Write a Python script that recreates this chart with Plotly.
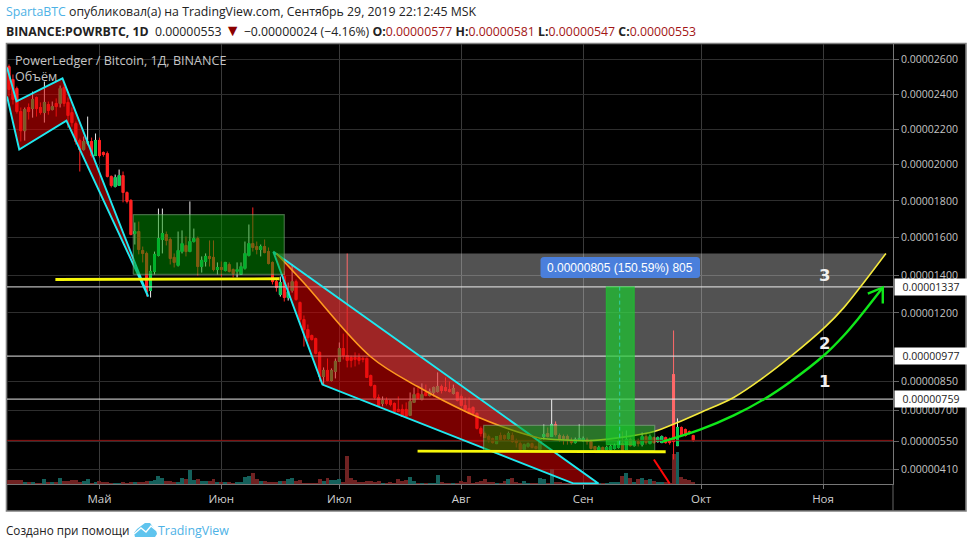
import numpy as np
import pandas as pd
import plotly.graph_objects as go

# ---------- data (prices in 1e-8 BTC, first candle 2019-04-08, one per day) ----------
OPEN = [2559,2484,2432,2300,2191,2323,2317,2380,2323,2294,
        2340,2311,2346,2346,2437,2352,2294,2231,2136,2085,
        2119,2130,2051,2136,2068,2062,1935,1879,1885,1940,
        1846,1803,1622,1633,1531,1515,1318,1419,1504,1590,
        1617,1590,1494,1451,1525,1558,1525,1579,1595,1445,
        1472,1499,1494,1429,1440,1424,1456,1429,1419,1403,
        1435,1504,1568,1552,1536,1552,1525,1467,1365,1297,
        1392,1281,1318,1365,1255,1166,1114,1083,1067,996,
        873,904,853,899,950,1016,980,970,970,970,
        965,965,878,827,767,737,752,752,737,707,
        707,707,677,742,787,757,792,777,792,797,
        822,817,807,787,792,772,727,712,717,687,
        612,587,572,562,537,577,577,562,577,552,
        537,508,523,537,523,508,572,587,572,632,
        577,572,572,552,542,557,552,557,547,523,
        503,518,508,508,513,518,537,508,557,527,
        547,532,572,537,567,547,542,567,557,883,
        527,617,607,597,577]
HIGH = [2571,2513,2443,2323,2323,2346,2414,2386,2352,2472,
        2357,2357,2375,2449,2466,2380,2323,2243,2147,2158,
        2271,2152,2175,2152,2074,2074,1940,1945,1973,1962,
        1852,1808,1682,1687,1552,1525,1451,1525,1758,1758,
        1633,1601,1515,1633,1639,1606,1797,1649,1606,1499,
        1515,1585,1585,1467,1472,1467,1467,1435,1467,1467,
        1579,1671,1764,1579,1563,1590,1547,1472,1376,1392,
        1419,1360,1456,1376,1260,1187,1140,1088,1072,1001,
        919,965,914,965,1047,1093,1515,980,996,991,
        975,970,883,832,782,772,767,757,742,772,
        732,742,792,817,817,838,832,812,822,894,
        832,868,848,832,797,782,767,767,722,692,
        622,597,582,567,572,592,582,597,592,562,
        547,537,542,542,527,562,632,617,757,647,
        587,582,582,567,567,632,572,567,557,523,
        527,523,527,532,537,557,597,602,567,557,
        562,592,587,582,572,572,577,572,567,1109,
        662,622,612,602,581]
LOW = [2386,2340,2288,2130,2135,2254,2265,2271,2282,2237,
       2282,2306,2271,2323,2328,2208,2214,2113,1962,2079,
       2108,2040,2051,2040,2045,1929,1874,1874,1885,1792,
       1786,1612,1563,1510,1467,1286,1281,1403,1499,1515,
       1558,1456,1440,1445,1515,1499,1525,1574,1397,1413,
       1445,1445,1419,1403,1392,1419,1413,1387,1387,1403,
       1429,1499,1525,1510,1499,1515,1456,1350,1312,1286,
       1260,1265,1307,1265,1140,1026,1052,1057,986,848,
       833,848,848,863,950,960,919,919,924,934,
       945,868,822,757,722,722,727,722,692,697,
       672,667,677,742,757,752,772,772,772,792,
       787,797,792,782,747,722,697,682,682,607,
       572,567,542,537,537,552,552,557,542,518,
       503,503,518,513,508,508,557,567,572,572,
       547,532,532,532,537,557,547,532,508,503,
       498,498,503,503,508,513,503,508,523,523,
       523,523,532,537,537,542,542,537,532,459,
       527,572,572,582,547]
CLOSE = [2426,2369,2300,2191,2311,2300,2369,2317,2294,2352,
         2306,2328,2328,2432,2346,2277,2237,2130,2085,2130,
         2130,2051,2136,2051,2057,1935,1885,1929,1940,1846,
         1797,1617,1633,1536,1515,1312,1419,1510,1595,1622,
         1585,1488,1467,1531,1568,1525,1579,1595,1445,1478,
         1499,1488,1429,1440,1429,1467,1419,1408,1429,1445,
         1515,1568,1547,1536,1552,1520,1461,1365,1334,1360,
         1281,1312,1365,1270,1166,1114,1072,1062,991,873,
         904,853,904,950,1016,980,955,955,960,955,
         960,868,827,767,727,752,737,732,697,697,
         672,672,747,782,762,782,777,797,817,822,
         802,802,797,812,752,727,707,687,687,612,
         587,567,557,542,572,557,562,587,547,542,
         508,532,537,518,513,557,582,572,632,582,
         562,562,557,542,557,562,562,547,513,508,
         518,503,518,523,527,547,503,557,527,547,
         537,572,542,572,542,567,572,542,542,547,
         617,577,577,587,553]
VOLUME = [4,4,4,4,2,2,2,1,1,5,
          2,2,2,6,3,3,4,4,2,3,
          5,1,2,3,2,2,1,1,1,2,
          1,2,2,2,2,3,3,4,8,6,
          3,3,2,2,6,5,14,4,5,3,
          3,3,5,2,2,2,2,1,2,2,
          7,8,11,5,3,3,2,2,2,3,
          3,5,6,3,4,1,1,1,1,5,
          3,6,4,4,5,2,28,6,4,2,
          2,3,3,2,3,1,1,2,1,5,
          3,4,7,3,1,1,1,1,1,9,
          2,1,1,1,1,3,2,8,1,2,
          3,5,2,2,1,1,3,5,6,2,
          1,3,1,1,1,6,5,1,15,2,
          2,1,1,1,1,1,1,1,1,1,
          1,1,1,2,2,2,8,11,6,2,
          5,6,4,5,3,2,2,2,1,30,
          32,7,5,4,2]

PRICE_TICKS = [2600,2400,2200,2000,1800,1600,1400,1200,850,700,550,410]
LEVELS = [1337,977,759]
LAST_PRICE = 553
MONTH_TICKS = ["2019-05-01","2019-06-01","2019-07-01","2019-08-01","2019-09-01","2019-10-01","2019-11-01"]
MONTH_LABELS = ["Май","Июн","Июл","Авг","Сен","Окт","Ноя"]

# drawings: day offsets from the first candle, prices
FLAG1_DAY = [-0.5,1.9,13.6,35.4,14.6,2.6,-0.5]
FLAG1_PRICE = [2554,2358,2490,1286,2248,2085,2386]
FLAG2_DAY = [67.2,79.7,143.6,149.9]
FLAG2_PRICE = [1525,832,342,342]
BOX1_DAY = [31.6,70.0]
BOX1_PRICE = [1403,1725]
BOX2_DAY = [120.7,164.2]
BOX2_PRICE = [503,627]
SUPPORT1_DAY = [11.8,68.8]
SUPPORT1_PRICE = [1376,1380]
SUPPORT2_DAY = [103.9,167.0]
SUPPORT2_PRICE = [500,497]
ARC_DAY = [68,74.9,91.9,103.9,116.6,127.5,135.2,147.9,157.3,164,170,175.9,184.3,191.9,198.8,207.7,212.3,216.6,223]
ARC_PRICE = [1515,1360,975,822,692,607,562,552,572,597,642,692,767,868,975,1130,1228,1339,1515]
GREEN_DAY = [166.2,175.9,184.3,191.9,198.8,207.2,212.3,215.9,222.2]
GREEN_PRICE = [547,607,677,757,848,980,1083,1169,1334]
HEAD_DAY = [218.4,222.2,222.2]
HEAD_PRICE = [1302,1334,1249]
RED_DAY = [164,168]
RED_PRICE = [459,342]
MEASURE_DAY = [151.9,159]
MEASURE_PRICE = [532,1337]
MEASURE_MID = 155.3
NUMBER_LABELS = [("3",1398),("2",1042),("1",850)]
NUMBER_DAY = 207.5

# ---------- scales ----------
BASE = pd.Timestamp("2019-04-08")
def day(d):
    return BASE + pd.to_timedelta(np.asarray(d, dtype=float), unit="D")
C_OFF, K = 10700.0, 2279.0
def S(v):
    return np.log(np.asarray(v, dtype=float) + C_OFF)
Y_TOP = float(S(2600)) + 15.5 / K
Y_BOT = float(S(2600)) - 424.5 / K
L, R, T, B = 7, 893, 44, 484
W, H = 973, 548
def px(x): return (x - L) / (R - L)
def py(y): return (B - y) / (B - T)

dates = day(np.arange(len(OPEN)))
O, Hi, Lo, Cl = map(np.array, (OPEN, HIGH, LOW, CLOSE))
up = Cl >= O

fig = go.Figure()

# volume (bottom layer, own hidden axis)
fig.add_trace(go.Bar(x=dates, y=VOLUME, yaxis="y",
                     marker=dict(color=["#14605b" if u else "#702222" for u in up], line_width=0),
                     showlegend=False, hoverinfo="skip"))

# wicks: white on rising candles, red on falling, bodies on top
UP_BODY, DN_BODY = "#00cc55", "#ff2222"
fig.add_trace(go.Candlestick(x=dates, open=S(O), high=S(Hi), low=S(Lo), close=S(Cl), yaxis="y2",
                             increasing=dict(line=dict(color="#e8e8e8", width=1), fillcolor="#e8e8e8"),
                             decreasing=dict(line=dict(color=DN_BODY, width=1), fillcolor=DN_BODY),
                             whiskerwidth=0, showlegend=False, hoverinfo="skip"))
body_top, body_bot = np.maximum(O, Cl), np.minimum(O, Cl)
fig.add_trace(go.Candlestick(x=dates, open=S(O), high=S(body_top), low=S(body_bot), close=S(Cl), yaxis="y2",
                             increasing=dict(line=dict(color=UP_BODY, width=1), fillcolor=UP_BODY),
                             decreasing=dict(line=dict(color=DN_BODY, width=1), fillcolor=DN_BODY),
                             whiskerwidth=0, showlegend=False, hoverinfo="skip"))

def line(dx, pv, color, width, dash=None, shape="linear", fill=None, fillcolor=None):
    fig.add_trace(go.Scatter(x=day(dx), y=S(pv), mode="lines", yaxis="y2", fill=fill, fillcolor=fillcolor,
                             line=dict(color=color, width=width, dash=dash, shape=shape),
                             showlegend=False, hoverinfo="skip"))

# horizontal levels
for lv in LEVELS:
    line([-1, 226], [lv, lv], "rgba(215,215,215,0.85)", 1.3)
line([-1, 226], [LAST_PRICE, LAST_PRICE], "#8f1414", 1)

# grey cup
line(ARC_DAY, ARC_PRICE, "rgba(0,0,0,0)", 0, shape="spline", fill="toself", fillcolor="rgba(255,255,255,0.32)")

# bear flags
RED_FILL = "rgba(220,0,0,0.55)"
CYAN = "#1fe8f0"
line(FLAG1_DAY, FLAG1_PRICE, CYAN, 1.9, fill="toself", fillcolor=RED_FILL)
line(FLAG2_DAY + FLAG2_DAY[:1], FLAG2_PRICE + FLAG2_PRICE[:1], CYAN, 1.9, fill="toself", fillcolor=RED_FILL)

# arcs
split = ARC_DAY.index(135.2) + 1
line(ARC_DAY[:split], ARC_PRICE[:split], "#ff9a1f", 1.6, shape="spline")
line(ARC_DAY[split - 1:], ARC_PRICE[split - 1:], "#f6ea3c", 1.6, shape="spline")

# green consolidation boxes
def box(dx, pv, fill, border):
    d0, d1 = dx
    p0, p1 = pv
    line([d0, d1, d1, d0, d0], [p0, p0, p1, p1, p0], border, 1.2, fill="toself", fillcolor=fill)
box(BOX1_DAY, BOX1_PRICE, "rgba(0,150,0,0.5)", "rgba(150,190,150,0.45)")
box(BOX2_DAY, BOX2_PRICE, "rgba(0,150,0,0.5)", "rgba(150,190,150,0.45)")

# support lines
line(SUPPORT1_DAY, SUPPORT1_PRICE, "#f7f70a", 2.8)
line(SUPPORT2_DAY, SUPPORT2_PRICE, "#f7f70a", 2.8)

# measure tool
box(MEASURE_DAY, MEASURE_PRICE, "rgba(25,205,45,0.68)", "rgba(25,205,45,0.6)")
line([MEASURE_MID, MEASURE_MID], MEASURE_PRICE, "#2fd0a8", 1, dash="4px,3px")

# arrows
line(GREEN_DAY, GREEN_PRICE, "#10e81a", 2.4, shape="spline")
line(HEAD_DAY, HEAD_PRICE, "#10e81a", 2.4)
line(RED_DAY, RED_PRICE, "#ff0808", 2)

# ---------- page furniture ----------
def rpath(x0, y0, x1, y1, r):
    p = [(x0 + r, y0), (x1 - r, y0), (x1, y0), (x1, y0 + r), (x1, y1 - r), (x1, y1), (x1 - r, y1), (x0 + r, y1), (x0, y1), (x0, y1 - r), (x0, y0 + r), (x0, y0), (x0 + r, y0)]
    f = lambda q: f"{px(q[0]):.5f},{py(q[1]):.5f}"
    return (f"M{f(p[0])} L{f(p[1])} Q{f(p[2])} {f(p[3])} L{f(p[4])} Q{f(p[5])} {f(p[6])} "
            f"L{f(p[7])} Q{f(p[8])} {f(p[9])} L{f(p[10])} Q{f(p[11])} {f(p[12])} Z")

shapes = [
    dict(type="rect", xref="paper", yref="paper", x0=px(6.5), x1=px(966), y0=py(43.5), y1=py(511),
         fillcolor="#000000", line=dict(color="#808080", width=1.6), layer="below"),
    dict(type="line", xref="paper", yref="paper", x0=px(893), x1=px(893), y0=py(484), y1=py(511),
         line=dict(color="#666666", width=1)),
    dict(type="path", xref="paper", yref="paper", path=rpath(540.5, 257, 700, 278, 3.5),
         fillcolor="#4a7fdc", line=dict(width=0)),
]
# logo
def lg(points):
    return "M" + " L".join(f"{px(a):.5f},{py(b):.5f}" for a, b in points)
shapes.append(dict(type="path", xref="paper", yref="paper",
                   path=lg([(135,537),(134,533),(137,529),(141,526),(145,523),(150,523),(153,527),(156,530),(157,534),(155,537)]) + " Z",
                   fillcolor="#5fc4ee", line=dict(width=0)))
shapes.append(dict(type="path", xref="paper", yref="paper",
                   path=lg([(134,534),(141,528),(146,532),(151,526),(157,531)]),
                   line=dict(color="#ffffff", width=1.4)))

FONT = "Open Sans"
def note(text, x, y, size=12, color="#222222", anchor="left", family=FONT, **kw):
    return dict(text=text, xref="paper", yref="paper", x=px(x), y=py(y), xanchor=anchor, yanchor="middle",
                showarrow=False, font=dict(family=family, size=size, color=color), **kw)

RED_TXT = "#a31515"
annotations = [
    note(f"<span style='color:#4db2e6'>SpartaBTC</span> опубликовал(а) на TradingView.com, Сентябрь 29, 2019 22:12:45 MSK", 4, 12, 12.3),
    note(f"<b>BINANCE:POWRBTC, 1D</b>  0.00000553 <span style='color:#8b0000;font-size:16px'>▼</span> −0.00000024 (−4.16%) "
         f"<b>O:</b><span style='color:{RED_TXT}'>0.00000577</span> <b>H:</b><span style='color:{RED_TXT}'>0.00000581</span> "
         f"<b>L:</b><span style='color:{RED_TXT}'>0.00000547</span> <b>C:</b><span style='color:{RED_TXT}'>0.00000553</span>", 4, 30, 12.3),
    note("PowerLedger / Bitcoin, 1Д, BINANCE", 13, 60, 12.6, "#c4c4c4"),
    note("Объём", 13, 77, 12.6, "#c4c4c4"),
    note("0.00000805 (150.59%) 805", 620, 267.5, 12, "#ffffff", anchor="center", family="Liberation Sans"),
    note("Создано при помощи", 4, 530, 11.7),
    note("TradingView", 156, 530, 12.4, "#4db2e6"),
]
for lv in LEVELS:
    annotations.append(dict(text=f"0.{lv:08d}", xref="paper", yref="y2", x=px(893.5), y=float(S(lv)),
                            xanchor="left", yanchor="middle", showarrow=False, width=72, height=16, align="center",
                            bgcolor="#ffffff", font=dict(family=FONT, size=10.5, color="#222222"), borderpad=0))
for txt, pv in NUMBER_LABELS:
    annotations.append(dict(text=f"<b>{txt}</b>", xref="x", yref="y2", x=day(NUMBER_DAY), y=float(S(pv)),
                            showarrow=False, font=dict(family="DejaVu Sans", size=16.5, color="#f0f0f0")))

GRID = "#2e2e2e"
fig.update_layout(
    width=W, height=H, autosize=False,
    margin=dict(l=L, r=W - R, t=T, b=H - B, pad=0),
    paper_bgcolor="#ffffff", plot_bgcolor="rgba(0,0,0,0)",
    bargap=0, boxmode="overlay", showlegend=False, shapes=shapes, annotations=annotations,
    xaxis=dict(type="date", range=[day(-0.51), day(224.8)], rangeslider=dict(visible=False),
               tickmode="array", tickvals=MONTH_TICKS, ticktext=MONTH_LABELS,
               showgrid=True, gridcolor="#3a3a3a", gridwidth=1, zeroline=False,
               ticks="outside", ticklen=4, tickcolor="#777777",
               showline=True, linecolor="#777777", linewidth=1,
               tickfont=dict(family=FONT, size=11.5, color="#cfcfcf")),
    yaxis=dict(range=[0, B - T], visible=False, fixedrange=True),
    yaxis2=dict(overlaying="y", side="right", range=[Y_BOT, Y_TOP],
                tickmode="array", tickvals=[float(S(v)) for v in PRICE_TICKS],
                ticktext=[f"0.{v:08d}" for v in PRICE_TICKS],
                showgrid=True, gridcolor=GRID, gridwidth=1, zeroline=False,
                ticks="outside", ticklen=5, tickcolor="#666666",
                showline=True, linecolor="#777777", linewidth=1,
                tickfont=dict(family=FONT, size=10.5, color="#c4c4c4")),
)

fig.write_html("out.html", config=dict(displayModeBar=False),
               post_script="document.body.style.margin='0';document.body.style.overflow='hidden';")
